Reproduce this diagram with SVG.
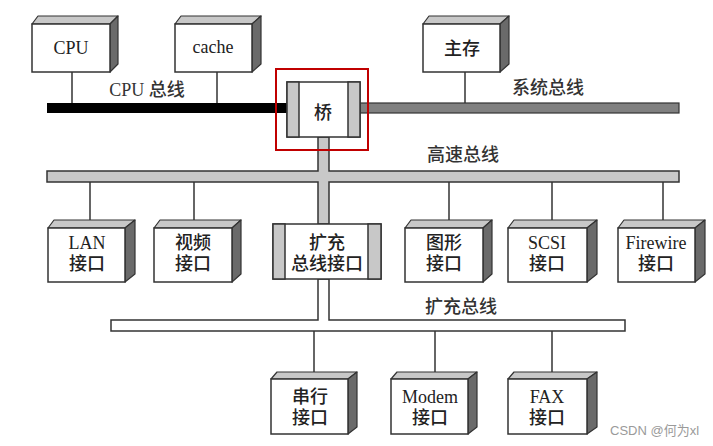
<svg xmlns="http://www.w3.org/2000/svg" width="713" height="446" viewBox="0 0 713 446">
<style>
.f{fill:#fff;stroke:#333;stroke-width:1.5}
.t{fill:#c8c8c8;stroke:#333;stroke-width:1.2;stroke-linejoin:round}
.s{fill:#6a6a6a;stroke:#333;stroke-width:1.2;stroke-linejoin:round}
.p{fill:#c8c8c8;stroke:#333;stroke-width:1.5}
.w{stroke:#333;stroke-width:1.5;fill:none}
text{font-family:"Liberation Serif","Noto Sans CJK SC",serif;font-size:18px;font-weight:500;fill:#222;text-anchor:middle}
.lb{fill:#333}
.wm{font-family:"Liberation Sans","Noto Sans CJK SC",sans-serif;font-size:13px;font-weight:normal;fill:#9a9a9a;text-anchor:start}
</style>
<rect width="713" height="446" fill="#fff"/>
<g id="connectors">
  <line class="w" x1="72" y1="72" x2="72" y2="103"/>
  <line class="w" x1="217" y1="72" x2="217" y2="103"/>
  <line class="w" x1="465" y1="72" x2="465" y2="103"/>
  <line class="w" x1="90" y1="182" x2="90" y2="220"/>
  <line class="w" x1="194" y1="182" x2="194" y2="220"/>
  <line class="w" x1="449" y1="182" x2="449" y2="220"/>
  <line class="w" x1="552" y1="182" x2="552" y2="220"/>
  <line class="w" x1="663" y1="182" x2="663" y2="220"/>
  <line class="w" x1="314" y1="331" x2="314" y2="372"/>
  <line class="w" x1="435" y1="331" x2="435" y2="372"/>
  <line class="w" x1="552" y1="331" x2="552" y2="372"/>
  <g id="cpu-bus"><rect x="47" y="103" width="241" height="10" fill="#000"/></g>
  <g id="system-bus"><rect x="360" y="103" width="319" height="10" fill="#808080" stroke="#333" stroke-width="1.2"/></g>
  <g id="high-speed-bus"><path d="M47,171 H318 V137 H329 V171 H679 V182 H329 V224 H318 V182 H47 Z" fill="#c8c8c8" stroke="#333" stroke-width="1.5"/></g>
  <g id="ext-bus"><path d="M111,320 H318 V279 H329 V320 H625 V331 H111 Z" fill="#fff" stroke="#333" stroke-width="1.5"/></g>
</g>
<g id="labels">
  <text class="lb" x="147" y="96">CPU 总线</text>
  <text class="lb" x="548" y="94">系统总线</text>
  <text class="lb" x="463" y="161">高速总线</text>
  <text class="lb" x="461" y="313">扩充总线</text>
</g>
<g id="cpu">
  <polygon class="t" points="32,24 38,16 118,16 110,24"/>
  <polygon class="s" points="110,24 118,16 118,64 110,72"/>
  <rect class="f" x="32" y="24" width="78" height="48"/>
  <text x="71" y="54">CPU</text>
</g>
<g id="cache">
  <polygon class="t" points="175,24 181,16 261,16 252,24"/>
  <polygon class="s" points="252,24 261,16 261,64 252,72"/>
  <rect class="f" x="175" y="24" width="77" height="48"/>
  <text x="213" y="53">cache</text>
</g>
<g id="main-memory">
  <polygon class="t" points="423,24 429,16 509,16 500,24"/>
  <polygon class="s" points="500,24 509,16 509,64 500,72"/>
  <rect class="f" x="423" y="24" width="77" height="48"/>
  <text x="462" y="55">主存</text>
</g>
<g id="bridge">
  <rect class="f" x="287" y="82" width="73" height="55"/>
  <rect class="p" x="287" y="82" width="12" height="55"/>
  <rect class="p" x="348" y="82" width="12" height="55"/>
  <text x="323" y="119">桥</text>
  <rect x="276" y="69" width="92" height="81" fill="none" stroke="#c00000" stroke-width="2"/>
</g>
<g id="lan">
  <polygon class="t" points="48,228 54,220 135,220 125,228"/>
  <polygon class="s" points="125,228 135,220 135,274 125,282"/>
  <rect class="f" x="48" y="228" width="77" height="54"/>
  <text x="87" y="249">LAN</text>
  <text x="87" y="270">接口</text>
</g>
<g id="video">
  <polygon class="t" points="154,228 160,220 241,220 232,228"/>
  <polygon class="s" points="232,228 241,220 241,274 232,282"/>
  <rect class="f" x="154" y="228" width="78" height="54"/>
  <text x="193" y="249">视频</text>
  <text x="193" y="270">接口</text>
</g>
<g id="ext-interface">
  <rect class="f" x="273" y="224" width="108" height="55"/>
  <rect class="p" x="273" y="224" width="12" height="55"/>
  <rect class="p" x="368" y="224" width="13" height="55"/>
  <text x="327" y="249">扩充</text>
  <text x="327" y="270">总线接口</text>
</g>
<g id="graphics">
  <polygon class="t" points="405,228 411,220 492,220 483,228"/>
  <polygon class="s" points="483,228 492,220 492,274 483,282"/>
  <rect class="f" x="405" y="228" width="78" height="54"/>
  <text x="444" y="249">图形</text>
  <text x="444" y="270">接口</text>
</g>
<g id="scsi">
  <polygon class="t" points="508,228 514,220 597,220 587,228"/>
  <polygon class="s" points="587,228 597,220 597,274 587,282"/>
  <rect class="f" x="508" y="228" width="79" height="54"/>
  <text x="547" y="249">SCSI</text>
  <text x="547" y="270">接口</text>
</g>
<g id="firewire">
  <polygon class="t" points="618,228 624,220 705,220 695,228"/>
  <polygon class="s" points="695,228 705,220 705,274 695,282"/>
  <rect class="f" x="618" y="228" width="77" height="54"/>
  <text x="656" y="249">Firewire</text>
  <text x="656" y="270">接口</text>
</g>
<g id="serial">
  <polygon class="t" points="271,379 277,372 357,372 348,379"/>
  <polygon class="s" points="348,379 357,372 357,427 348,434"/>
  <rect class="f" x="271" y="379" width="77" height="55"/>
  <text x="310" y="403">串行</text>
  <text x="310" y="424">接口</text>
</g>
<g id="modem">
  <polygon class="t" points="391,379 397,372 477,372 468,379"/>
  <polygon class="s" points="468,379 477,372 477,427 468,434"/>
  <rect class="f" x="391" y="379" width="77" height="55"/>
  <text x="430" y="403">Modem</text>
  <text x="430" y="424">接口</text>
</g>
<g id="fax">
  <polygon class="t" points="508,379 514,372 597,372 587,379"/>
  <polygon class="s" points="587,379 597,372 597,427 587,434"/>
  <rect class="f" x="508" y="379" width="79" height="55"/>
  <text x="547" y="403">FAX</text>
  <text x="547" y="424">接口</text>
</g>
<text class="wm" x="610" y="435">CSDN @何为xl</text>
</svg>
